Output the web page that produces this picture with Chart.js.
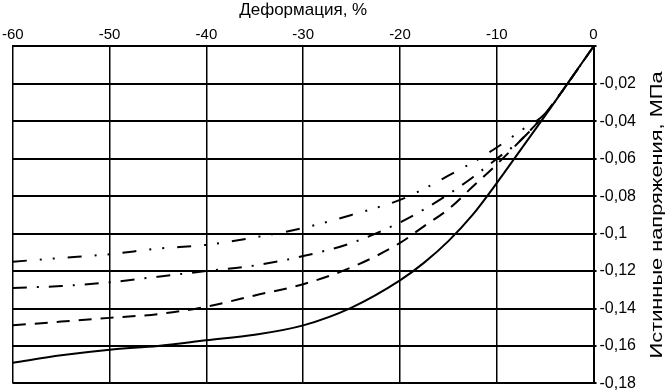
<!DOCTYPE html>
<html>
<head>
<meta charset="utf-8">
<script src="https://cdn.jsdelivr.net/npm/chart.js@4.4.0/dist/chart.umd.min.js"></script>
<style>
  html, body { margin: 0; padding: 0; background: #fff; overflow: hidden; }
  #wrap { width: 668px; height: 390px; overflow: hidden; position: relative; }
  #myChart { position: absolute; left: -1px; top: 0; }
</style>
</head>
<body>
<div id="wrap"><canvas id="myChart" width="669" height="396"></canvas></div>
<script>
// strain, %
const strain = [-60, -55, -50, -45, -40, -35, -30, -25, -20, -17.5, -15, -12.5, -10, -7.5, -5, -2.5, 0];
// true stress, MPa
const solidCurve   = [-0.169, -0.165, -0.162, -0.160, -0.157, -0.154, -0.149, -0.1395, -0.125, -0.1155, -0.104, -0.090, -0.073, -0.055, -0.037, -0.0185, 0];
const dashedCurve  = [-0.149, -0.147, -0.145, -0.143, -0.139, -0.133, -0.127, -0.118, -0.105, -0.096, -0.087, -0.075, -0.063, -0.050, -0.036, -0.0185, 0];
const dashDotCurve = [-0.129, -0.128, -0.126, -0.123, -0.120, -0.117, -0.112, -0.105, -0.094, -0.087, -0.079, -0.070, -0.060, -0.050, -0.036, -0.0185, 0];
const dashDotDotCurve = [-0.115, -0.113, -0.111, -0.108, -0.106, -0.102, -0.097, -0.090, -0.082, -0.076, -0.069, -0.062, -0.054, -0.045, -0.036, -0.0185, 0];

const xTitle = 'Деформация, %';
const yTitle = 'Истинные напряжения, МПа';

function pts(values) {
  return strain.map(function (s, i) { return { x: s, y: values[i] }; });
}

function series(values, dash) {
  return {
    data: pts(values),
    borderColor: '#000',
    borderWidth: 2,
    borderDash: dash,
    pointRadius: 0,
    fill: false,
    cubicInterpolationMode: 'monotone'
  };
}

const fam = '"Liberation Sans", Arial, sans-serif';

// y title reads bottom-to-top on the right side, a bit stretched like the original
const yTitlePlugin = {
  id: 'yTitleLeftRot',
  afterDraw(chart) {
    const ctx = chart.ctx;
    const area = chart.chartArea;
    ctx.save();
    ctx.font = '17px ' + fam;
    const w = ctx.measureText(yTitle).width;
    ctx.translate(area.right + 64, (area.top + area.bottom) / 2);
    ctx.rotate(-Math.PI / 2);
    ctx.scale(287 / w, 1);
    ctx.fillStyle = '#000';
    ctx.textAlign = 'center';
    ctx.textBaseline = 'middle';
    ctx.fillText(yTitle, 0, 0);
    ctx.restore();
  }
};

new Chart(document.getElementById('myChart').getContext('2d'), {
  type: 'line',
  data: {
    datasets: [
      series(solidCurve, []),
      series(dashedCurve, [13, 9]),
      series(dashDotCurve, [14, 10, 2, 10]),
      series(dashDotDotCurve, [14, 13, 2, 11, 2, 13])
    ]
  },
  options: {
    responsive: false,
    animation: false,
    plugins: { legend: { display: false }, tooltip: { enabled: false } },
    layout: { padding: { left: 0, right: 29, top: 0, bottom: 0 } },
    scales: {
      x: {
        type: 'linear',
        position: 'top',
        min: -60,
        max: 0,
        ticks: { stepSize: 10, color: '#000', font: { family: fam, size: 15 }, padding: 3, maxRotation: 0 },
        grid: { color: '#000', lineWidth: 1.5, drawTicks: false },
        border: { color: '#000', width: 2 },
        title: { display: true, text: xTitle, color: '#000', font: { family: fam, size: 17 }, padding: { top: 0, bottom: 2 } }
      },
      y: {
        position: 'right',
        min: -0.18,
        max: 0,
        ticks: {
          stepSize: 0.02,
          color: '#000',
          font: { family: fam, size: 16 },
          padding: 3,
          callback: function (v) {
            if (Math.abs(v) < 1e-9) return '';
            let s = parseFloat(v.toFixed(2)).toString();
            return s.replace('.', ',');
          }
        },
        grid: { color: '#000', lineWidth: 2, tickLength: 3 },
        border: { color: '#000', width: 2 }
      }
    }
  },
  plugins: [yTitlePlugin]
});
</script>
</body>
</html>
